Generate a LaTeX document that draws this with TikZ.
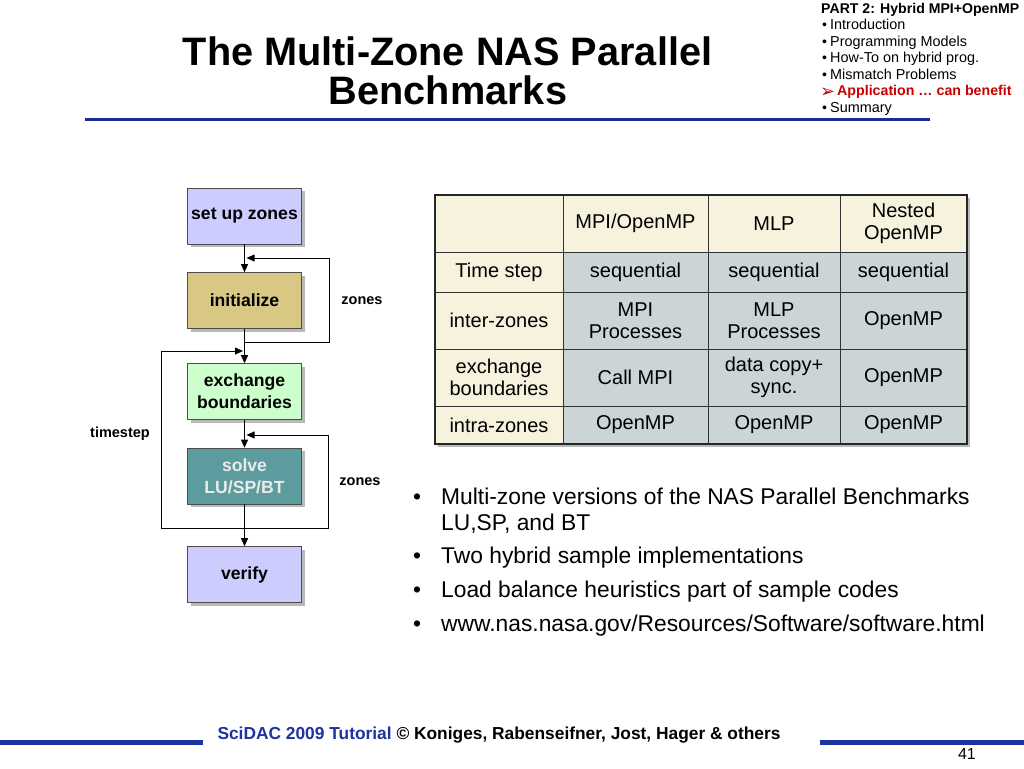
\documentclass[tikz,border=0pt]{standalone}
\usepackage{fontspec}
\setmainfont{Liberation Sans}
\newfontfamily\dvs{DejaVu Sans}
\usetikzlibrary{arrows.meta,shadows}
\definecolor{tblue}{RGB}{25,45,145}
\definecolor{fblue}{RGB}{30,50,160}
\definecolor{lav}{RGB}{204,204,255}
\definecolor{khaki}{RGB}{216,200,132}
\definecolor{mint}{RGB}{204,255,204}
\definecolor{tealbox}{RGB}{92,155,158}
\definecolor{cream}{RGB}{246,242,222}
\definecolor{cellg}{RGB}{204,213,213}
\definecolor{ared}{RGB}{200,0,0}
\begin{document}
\begin{tikzpicture}[x=1pt,y=-1pt,
  fbox/.style={draw=gray!60!black, line width=0.6pt, minimum width=114pt, minimum height=56pt, inner sep=0pt,
    font=\bfseries\fontsize{17.6}{21.7}\selectfont, align=center,
    drop shadow={shadow xshift=3pt,shadow yshift=-3pt,fill=gray!55,opacity=1}},
  arr/.style={draw=black, line width=0.8pt, -{Triangle[length=8pt,width=7pt]}},
  lbl/.style={font=\bfseries\fontsize{14.5}{16}\selectfont, inner sep=0pt},
  cell/.style={draw=gray!40!black, line width=0.8pt, inner sep=0pt, align=center, font=\fontsize{20}{22.5}\selectfont},
  ch/.style={cell, fill=cream},
  cd/.style={cell, fill=cellg},
  wa/.style={minimum width=128pt}, wb/.style={minimum width=145pt},
  wc/.style={minimum width=132pt}, wd/.style={minimum width=127pt},
  ra/.style={minimum height=57pt}, rb/.style={minimum height=40pt},
  re/.style={minimum height=38pt},
  menu/.style={anchor=base west, inner sep=0pt, font=\fontsize{14.4}{16}\selectfont},
  mbul/.style={anchor=base west, inner sep=0pt, font=\fontsize{14}{16}\selectfont},
  bul/.style={anchor=base west, inner sep=0pt, font=\fontsize{22.8}{26}\selectfont},
  footbar/.style={fill=fblue}
]
\useasboundingbox (0,0) rectangle (1024,768);
\fill[white] (0,0) rectangle (1024,768);

% title
\node[anchor=base, inner sep=0pt, font=\bfseries\fontsize{39.7}{40}\selectfont] (t1) at (447.5,66) {The Multi-Zone NAS Parallel};
\node[anchor=base, inner sep=0pt, font=\bfseries\fontsize{39.7}{40}\selectfont] (t2) at (448,104) {Benchmarks};
\fill[tblue] (85,117.5) rectangle (930,121);

% top-right menu
\node[menu, font=\bfseries\fontsize{14.1}{16}\selectfont] (m0) at (821,14) {PART 2: Hybrid MPI+OpenMP};
\node[mbul] (mb1) at (822,30) {\textbullet};
\node[menu] (m1) at (830,30) {Introduction};
\node[mbul] (mb2) at (822,46.5) {\textbullet};
\node[menu] (m2) at (830,46.5) {Programming Models};
\node[mbul] (mb3) at (822,63) {\textbullet};
\node[menu] (m3) at (830,63) {How-To on hybrid prog.};
\node[mbul] (mb4) at (822,79) {\textbullet};
\node[menu] (m4) at (830,79) {Mismatch Problems};
\node[menu, text=ared, font=\dvs\fontsize{18}{16}\selectfont] (ma5) at (820,97) {➢};
\node[menu, text=ared, font=\bfseries\fontsize{14.2}{16}\selectfont] (m5) at (837,95.5) {Application … can benefit};
\node[mbul] (mb6) at (822,112) {\textbullet};
\node[menu] (m6) at (830,112) {Summary};

% flowchart
\node[fbox, fill=lav] (setup) at (244.5,216) {set up zones};
\node[fbox, fill=khaki] (init) at (244.5,300.5) {initialize};
\node[fbox, fill=mint] (exch) at (244.5,391.5) {exchange\\boundaries};
\node[fbox, fill=tealbox, text=white!92!black] (solve) at (244.5,476) {solve\\LU/SP/BT};
\node[fbox, fill=lav] (verify) at (244.5,574.5) {verify};

\draw[arr] (setup.south) -- (init.north);
\draw[arr] (init.south) -- (exch.north);
\draw[arr] (exch.south) -- (solve.north);
\draw[arr] (solve.south) -- (verify.north);

\coordinate (z1b) at (244.5,342);
\coordinate (z1t) at (246.5,258);
\coordinate (tsb) at (244.5,528);
\coordinate (tst) at (243,351);
\coordinate (z2t) at (246.5,435);
\draw[arr] (z1b) -- ++(84.5,0) |- (z1t);
\draw[arr] (tsb) -- (161,528) |- (tst);
\draw[arr] (tsb) -- (328,528) |- (z2t);

\node[lbl] (lz1) at (362,301) {zones};
\node[lbl] (lts) at (120,434) {timestep};
\node[lbl] (lz2) at (360,482) {zones};

% table
\fill[gray!55] (438,198) rectangle (970,447);
\node[ch,wa,ra] (c11) at (499,223.5) {};
\node[ch,wb,ra] (c12) at (635.5,223.5) {MPI/OpenMP};
\node[ch,wc,ra] (c13) at (774,223.5) {MLP};
\node[ch,wd,ra] (c14) at (903.5,223.5) {Nested\\OpenMP};
\node[ch,wa,rb] (c21) at (499,272) {Time step};
\node[cd,wb,rb] (c22) at (635.5,272) {sequential};
\node[cd,wc,rb] (c23) at (774,272) {sequential};
\node[cd,wd,rb] (c24) at (903.5,272) {sequential};
\node[ch,wa,ra] (c31) at (499,320.5) {inter-zones};
\node[cd,wb,ra] (c32) at (635.5,320.5) {MPI\\Processes};
\node[cd,wc,ra] (c33) at (774,320.5) {MLP\\Processes};
\node[cd,wd,ra] (c34) at (903.5,320.5) {OpenMP};
\node[ch,wa,ra] (c41) at (499,377.5) {exchange\\boundaries};
\node[cd,wb,ra] (c42) at (635.5,377.5) {Call MPI};
\node[cd,wc,ra] (c43) at (774,377.5) {data copy+\\sync.};
\node[cd,wd,ra] (c44) at (903.5,377.5) {OpenMP};
\node[ch,wa,re] (c51) at (499,425) {intra-zones};
\node[cd,wb,re] (c52) at (635.5,425) {OpenMP};
\node[cd,wc,re] (c53) at (774,425) {OpenMP};
\node[cd,wd,re] (c54) at (903.5,425) {OpenMP};
\draw[line width=2pt, black!85] (c11.north west) rectangle (c54.south east);

% bullets
\node[bul] (b1) at (413,504) {\textbullet};
\node[bul] (t1a) at (441,504) {Multi-zone versions of the NAS Parallel Benchmarks};
\node[bul] (t1b) at (441,530) {LU,SP, and BT};
\node[bul] (b2) at (413,563) {\textbullet};
\node[bul] (t2a) at (441,563) {Two hybrid sample implementations};
\node[bul] (b3) at (413,597) {\textbullet};
\node[bul] (t3a) at (441,597) {Load balance heuristics part of sample codes};
\node[bul] (b4) at (413,631) {\textbullet};
\node[bul] (t4a) at (441,631) {www.nas.nasa.gov/Resources/Software/software.html};

% footer
\fill[footbar] (0,740) rectangle (203,744.5);
\fill[footbar] (820,740) rectangle (1024,744.5);
\node[anchor=base, inner sep=0pt, font=\bfseries\fontsize{17.35}{18}\selectfont] (foot) at (499,739)
  {\textcolor{fblue}{SciDAC 2009 Tutorial} © Koniges, Rabenseifner, Jost, Hager \& others};
\node[anchor=base east, inner sep=0pt, font=\fontsize{16}{18}\selectfont] (pg) at (976,759) {41};
\end{tikzpicture}
\end{document}
